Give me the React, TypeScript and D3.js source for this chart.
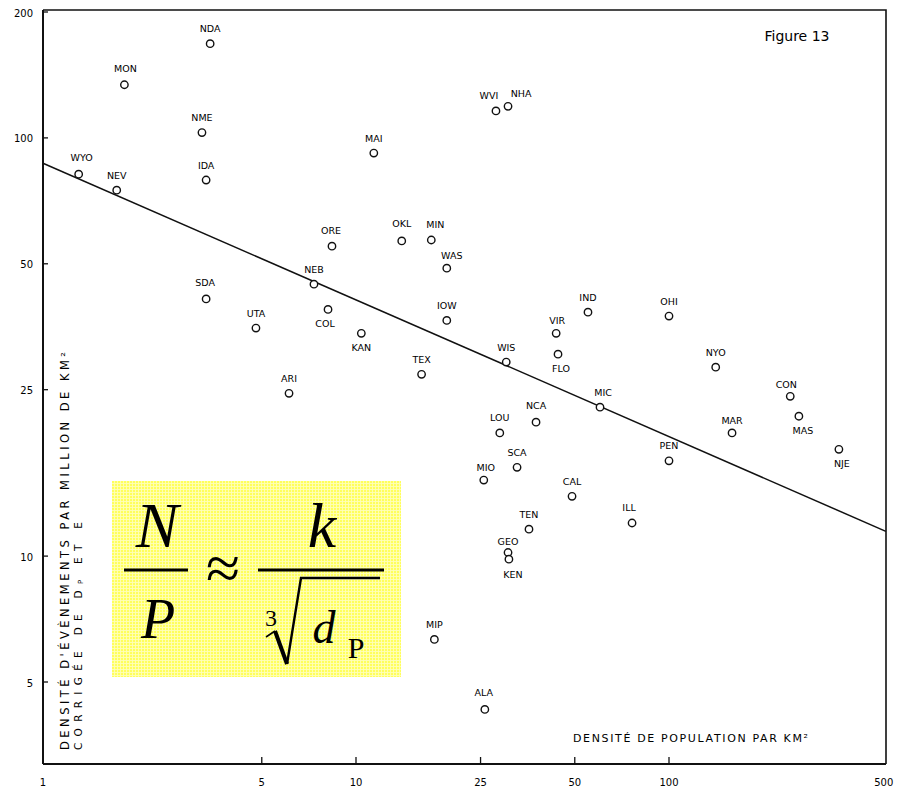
import React from "react";
import * as d3 from "d3";

// ---- data ----
const states = ["NDA","MON","NME","IDA","WYO","NEV","WVI","NHA","MAI","ORE","OKL","MIN","WAS","SDA","UTA","ARI","NEB","COL","KAN","IOW","TEX","WIS","VIR","FLO","IND","LOU","NCA","SCA","MIO","CAL","MIC","OHI","NYO","CON","MAS","MAR","PEN","NJE","ILL","TEN","GEO","KEN","MIP","ALA"];
const popDensity = [3.42,1.82,3.22,3.32,1.30,1.72,28.0,30.6,11.4,8.38,14.0,17.4,19.5,3.32,4.79,6.11,7.34,8.14,10.4,19.5,16.2,30.2,43.6,44.2,55.1,28.8,37.6,32.7,25.6,49.0,60.2,100,141,244,260,159,100,349,76.2,35.7,30.6,30.8,17.8,25.8];
const eventDensity = [168,134,103,79.3,81.9,75.0,116,119,92.0,55.1,56.7,57.0,48.8,41.2,35.1,24.5,44.7,38.9,34.1,36.6,27.2,29.1,34.1,30.4,38.3,19.7,20.9,16.3,15.2,13.9,22.7,37.5,28.3,24.1,21.6,19.7,16.9,18.0,12.0,11.6,10.2,9.83,6.32,4.30];

const xTicks = [1, 5, 10, 25, 50, 100, 500];
const yTicks = [5, 10, 25, 50, 100, 200];

// fitted line N/P ~ k / cbrt(d)  (two ends of the drawn line)
const trendD = [1, 493];
const trendN = [87, 11.46];

const yTitle1 = "DENSITÉ D'ÉVÈNEMENTS PAR MILLION DE KM²";
const xTitle = "DENSITÉ DE POPULATION PAR KM²";
const figTitle = "Figure 13";

// label placement (offset of label centre from the point)
const below = new Set(["COL","KAN","FLO","MAS","NJE","KEN"]);
const labelNudge: Record<string, [number, number]> = {
  WVI: [-7, 0], NHA: [13, 2], WYO: [3, -2], CON: [-4, 3], MIN: [4, 0], WAS: [5, 2],
  NCA: [0, -2], COL: [-3, 0], FLO: [3, 0], MAS: [4, 0], NJE: [3, 0], KEN: [4, 1],
  GEO: [0, 4], MAR: [0, 3], MIO: [2, 2], VIR: [1, 2], ILL: [-3, 0],
  MIC: [3, 0], ALA: [-1, -2], OKL: [0, -2], MON: [1, -1], ORE: [-1, -1], SDA: [-1, -1],
};

const W = 897, H = 787;
const frame = { left: 43, right: 886, top: 10, bottom: 764 };

export default function App() {
  const x = d3.scaleLog().domain([1, 500]).range([43, 43 + 313 * Math.log10(500)]);
  const y = d3.scaleLog().domain([5, 200]).range([682, 12]);
  const line = d3.line<number>().x((d) => x(trendD[d])).y((d) => y(trendN[d]));

  const font = "'DejaVu Sans', sans-serif";
  const serif = "'Liberation Serif', 'Times New Roman', serif";

  return (
    <svg width={W} height={H} style={{ position: "absolute", left: 0, top: 0, background: "#fff" }}>
      <defs>
        <pattern id="grid" width="3" height="3" patternUnits="userSpaceOnUse">
          <rect width="3" height="3" fill="#ffff5c" />
          <path d="M0 0.5H3M0.5 0V3" stroke="#ffffb8" strokeWidth="0.9" />
        </pattern>
      </defs>
      <rect x={0} y={0} width={W} height={H} fill="#fff" />

      {/* frame */}
      <path d={`M${frame.left},${frame.top}H${frame.right}V${frame.bottom}`} fill="none" stroke="#111" strokeWidth={1.6} />
      <line x1={frame.left} x2={frame.left} y1={frame.top} y2={frame.bottom} stroke="#111" strokeWidth={2} />
      <line x1={frame.left} x2={frame.right} y1={frame.bottom} y2={frame.bottom} stroke="#111" strokeWidth={1.8} />

      {/* y ticks */}
      {yTicks.map((t) => (
        <g key={"y" + t}>
          <line x1={frame.left} x2={frame.left + 5} y1={y(t)} y2={y(t)} stroke="#111" strokeWidth={1.3} />
          <text x={33} y={y(t) + 1} textAnchor="end" dominantBaseline="central" fontFamily={font} fontSize={10}>{t}</text>
        </g>
      ))}
      {/* x ticks */}
      {xTicks.map((t) => (
        <g key={"x" + t}>
          {t !== 1 && t !== 500 && (
            <line x1={x(t)} x2={x(t)} y1={frame.bottom} y2={frame.bottom - 7} stroke="#111" strokeWidth={1.3} />
          )}
          <text x={t === 500 ? x(t) - 4 : x(t)} y={782} textAnchor="middle" dominantBaseline="central" fontFamily={font} fontSize={10}>{t}</text>
        </g>
      ))}

      {/* trend line */}
      <path d={line([0, 1]) || ""} fill="none" stroke="#111" strokeWidth={1.5} />

      {/* points */}
      {states.map((s, i) => {
        const cx = x(popDensity[i]);
        const cy = y(eventDensity[i]);
        const n = labelNudge[s] || [0, 0];
        const dy = below.has(s) ? 14 : -15;
        return (
          <g key={s}>
            <circle cx={cx} cy={cy} r={3.7} fill="#fff" stroke="#111" strokeWidth={1.4} />
            <text x={cx + n[0]} y={cy + dy + n[1]} textAnchor="middle" dominantBaseline="central" fontFamily={font} fontSize={9.5}>{s}</text>
          </g>
        );
      })}

      {/* figure title */}
      <text x={797} y={41} textAnchor="middle" fontFamily={font} fontSize={14}>{figTitle}</text>

      {/* axis titles */}
      <text transform="translate(65,750) rotate(-90)" dominantBaseline="central" fontFamily={font} fontSize={11.5} textLength={398} lengthAdjust="spacing">{yTitle1}</text>
      <text transform="translate(78,750) rotate(-90)" dominantBaseline="central" fontFamily={font} fontSize={10.5} textLength={228} lengthAdjust="spacing">
        CORRIGÉE DE D<tspan fontSize={7} dy={3}>P</tspan><tspan dy={-3}> ET E</tspan>
      </text>
      <text x={573} y={738} dominantBaseline="central" fontFamily={font} fontSize={11} textLength={235} lengthAdjust="spacing">{xTitle}</text>

      {/* formula box */}
      <rect x={112} y={481} width={289} height={196} fill="url(#grid)" />
      <g fontFamily={serif} fill="#000">
        <text x={157} y={547} textAnchor="middle" fontStyle="italic" fontSize={64}>N</text>
        <rect x={124} y={568.5} width={64} height={3} />
        <text x={158} y={638} textAnchor="middle" fontStyle="italic" fontSize={56}>P</text>
        <text x={223} y={589} textAnchor="middle" fontSize={62}>≈</text>
        <text x={322} y={547} textAnchor="middle" fontStyle="italic" fontSize={64}>k</text>
        <rect x={258} y={568.5} width={126} height={3} />
        <text x={271} y={626} textAnchor="middle" fontSize={24}>3</text>
        <path d="M266,637 L275,631" fill="none" stroke="#000" strokeWidth={1.6} />
        <path d="M275,631 L287,664" fill="none" stroke="#000" strokeWidth={4} />
        <path d="M287,664 L301,578 H380" fill="none" stroke="#000" strokeWidth={2.4} strokeLinejoin="miter" />
        <text x={324} y={643} textAnchor="middle" fontStyle="italic" fontSize={46}>d</text>
        <text x={356} y={658} textAnchor="middle" fontSize={30}>P</text>
      </g>
    </svg>
  );
}
